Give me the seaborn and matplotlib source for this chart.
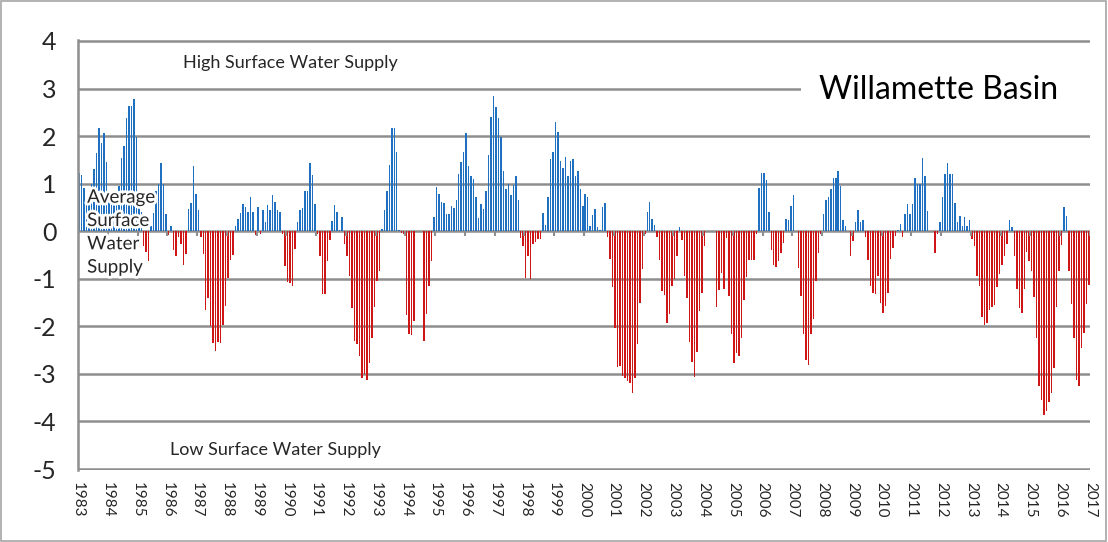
import numpy as np
import pandas as pd
import matplotlib.pyplot as plt
import matplotlib.patheffects as pe
from matplotlib.patches import Rectangle
import seaborn as sns

# monthly surface water supply index, Willamette Basin, Jan 1983 - Dec 2016
v1983 = [1.23, 1.18, 0.9, 0.7, 0.8, 1.0, 1.31, 1.64, 2.17, 1.86, 2.07, 1.46]
v1984 = [0.8, 0.6, 0.7, 0.6, 0.95, 1.54, 1.8, 2.39, 2.64, 2.63, 2.78, 1.99]
v1985 = [0.7, 0.4, -0.32, -0.43, -0.63, 0.1, 0.38, 0.85, 0.99, 1.43, 0.99, 0.37]
v1986 = [-0.08, 0.12, -0.39, -0.53, -0.12, -0.26, -0.7, -0.48, 0.47, 0.59, 1.37, 0.78]
v1987 = [0.45, -0.12, -0.48, -1.66, -1.41, -2.0, -2.36, -2.52, -2.32, -2.34, -1.97, -1.57]
v1988 = [-0.99, -0.6, -0.5, 0.1, 0.26, 0.38, 0.57, 0.5, 0.4, 0.72, 0.4, -0.08]
v1989 = [0.5, -0.06, 0.45, 0.19, 0.55, 0.45, 0.76, 0.62, 0.45, 0.41, -0.05, -0.74]
v1990 = [-1.07, -1.08, -1.15, -0.37, 0.19, 0.45, 0.48, 0.85, 0.85, 1.43, 1.18, 0.57]
v1991 = [-0.05, -0.53, -1.31, -1.31, -0.62, -0.19, 0.21, 0.55, 0.4, 0.02, 0.3, -0.26]
v1992 = [-0.53, -0.94, -1.62, -2.31, -2.38, -2.63, -3.08, -3.01, -3.12, -2.76, -2.24, -1.59]
v1993 = [-1.05, -0.84, 0.05, 0.45, 0.85, 1.39, 2.16, 2.18, 1.66, 0.02, -0.03, -0.05]
v1994 = [-1.77, -2.17, -2.19, -1.88, 0.0, 0.0, 0.0, -2.31, -1.74, -1.15, -0.63, 0.3]
v1995 = [0.93, 0.78, 0.62, 0.59, 0.37, 0.37, 0.52, 0.48, 0.66, 1.21, 1.46, 1.66]
v1996 = [2.07, 1.38, 1.16, 1.1, 0.72, 0.28, 0.57, 0.47, 0.85, 1.61, 2.4, 2.85]
v1997 = [2.61, 2.37, 1.99, 1.26, 0.88, 1.0, 0.76, 0.97, 1.16, 0.66, -0.15, -0.32]
v1998 = [-0.98, -0.53, -1.0, -0.26, -0.22, -0.17, -0.17, 0.38, 0.14, 0.72, 1.52, 1.66]
v1999 = [2.3, 2.08, 1.47, 1.33, 1.56, 1.16, 1.47, 1.52, 1.16, 1.26, 0.88, 0.52]
v2000 = [0.78, 0.71, 0.12, 0.34, 0.47, 0.09, 0.03, 0.5, 0.59, -0.13, -0.59, -1.17]
v2001 = [-2.03, -2.86, -2.84, -3.05, -3.08, -3.14, -3.19, -3.41, -3.08, -2.38, -1.5, -0.79]
v2002 = [-0.05, 0.41, 0.62, 0.26, 0.14, -0.12, -0.6, -1.26, -1.34, -1.93, -1.74, -1.15]
v2003 = [-1.0, -0.53, 0.09, -0.19, -0.94, -1.41, -2.32, -2.74, -3.07, -2.53, -1.67, -1.29]
v2004 = [-0.32, 0.0, 0.0, 0.0, 0.0, -1.6, -1.24, -0.88, -1.22, -0.14, -1.36, -2.17]
v2005 = [-2.76, -2.55, -2.63, -2.24, -1.44, -0.97, -0.6, -0.6, -0.6, -0.05, 0.9, 1.23]
v2006 = [1.23, 1.07, 0.4, -0.39, -0.7, -0.75, -0.62, -0.45, -0.24, 0.26, 0.23, 0.52]
v2007 = [0.76, 0.0, -0.77, -1.36, -2.17, -2.7, -2.81, -2.17, -1.84, -1.05, -0.45, -0.05]
v2008 = [0.37, 0.66, 0.71, 0.88, 1.11, 1.11, 1.26, 0.95, 0.24, 0.1, 0.0, -0.52]
v2009 = [-0.2, 0.19, 0.45, 0.19, 0.23, -0.12, -0.6, -1.15, -1.29, -1.32, -0.94, -1.5]
v2010 = [-1.72, -1.58, -1.29, -0.59, -0.36, -0.1, 0.03, 0.16, -0.13, 0.37, 0.57, 0.37]
v2011 = [0.57, 1.11, 1.0, 1.0, 1.54, 1.16, 0.43, 0.0, 0.0, -0.46, -0.05, 0.19]
v2012 = [0.72, 1.21, 1.43, 1.21, 1.21, 0.59, 0.19, 0.31, 0.12, 0.3, 0.12, 0.24]
v2013 = [-0.17, -0.32, -0.94, -1.15, -1.81, -1.98, -1.94, -1.66, -1.6, -1.55, -1.17, -0.9]
v2014 = [-0.7, -0.53, -0.26, 0.23, 0.09, -0.53, -1.21, -1.62, -1.72, -1.21, -0.43, -0.63]
v2015 = [-0.83, -1.38, -2.24, -3.26, -3.54, -3.86, -3.78, -3.6, -3.4, -2.88, -1.6, -0.84]
v2016 = [-0.28, 0.5, 0.33, -0.83, -1.52, -2.24, -3.12, -3.26, -2.45, -2.14, -1.53, -1.13]

years = list(range(1983, 2017))
year_values = [v1983, v1984, v1985, v1986, v1987, v1988, v1989, v1990, v1991, v1992,
               v1993, v1994, v1995, v1996, v1997, v1998, v1999, v2000, v2001, v2002,
               v2003, v2004, v2005, v2006, v2007, v2008, v2009, v2010, v2011, v2012,
               v2013, v2014, v2015, v2016]
tick_years = list(range(1983, 2018))
y_ticks = [4, 3, 2, 1, 0, -1, -2, -3, -4, -5]

values = np.concatenate(year_values)
df = pd.DataFrame({
    'month': np.arange(len(values)),
    'index': values,
    'sign': np.where(values >= 0, 'high', 'low'),
})

sns.set_style('white')
plt.rcParams['font.family'] = ['Lato', 'DejaVu Sans']

blue = '#1f70c1'
red = '#cf1616'
grid_col = '#8e8e8e'

fig = plt.figure(figsize=(11.08, 5.42), dpi=100)
ax = fig.add_axes([78 / 1108, 72 / 542, 1012 / 1108, 430 / 542])

sns.barplot(data=df, x='month', y='index', hue='sign', hue_order=['high', 'low'],
            palette={'high': blue, 'low': red}, dodge=False, native_scale=True,
            width=0.6, saturation=1, linewidth=0, legend=False, ax=ax)

ax.set_xlim(-0.5, len(values) - 0.5)
ax.set_ylim(-5.02, 4.02)
ax.set_yticks(y_ticks)
ax.set_yticklabels([str(t) for t in y_ticks], fontsize=18)
ax.yaxis.grid(True, color=grid_col, linewidth=1.8)
ax.set_axisbelow(True)

# year labels at the year boundaries
tick_pos = [12 * k - 0.5 for k in range(len(tick_years))]
ax.set_xticks(tick_pos)
ax.set_xticklabels([str(y) for y in tick_years], rotation=-90, fontsize=11)
ax.tick_params(axis='x', length=0, pad=9)
ax.tick_params(axis='y', length=4.5, width=1.5, color=grid_col, pad=11)
ax.vlines(tick_pos, -0.1, 0, color=grid_col, linewidth=1.5, zorder=1)

for s in ['top', 'right', 'bottom']:
    ax.spines[s].set_visible(False)
ax.spines['left'].set_color(grid_col)
ax.spines['left'].set_linewidth(1.8)
ax.set_xlabel('')
ax.set_ylabel('')

ax.text(0.21, 3.54, 'High Surface Water Supply', transform=ax.get_yaxis_transform(),
        ha='center', va='center', fontsize=13, color='#262626')
ax.text(0.195, -4.6, 'Low Surface Water Supply', transform=ax.get_yaxis_transform(),
        ha='center', va='center', fontsize=13, color='#262626')

# title box sits on top of the 3 gridline
ax.add_patch(Rectangle((0.714, 0.84), 0.29, 0.088, transform=ax.transAxes,
                       facecolor='white', edgecolor='none', zorder=3, clip_on=False))
ax.text(0.732, 2.97, 'Willamette Basin', transform=ax.get_yaxis_transform(),
        ha='left', va='center', fontsize=23, color='black', zorder=4)

ax.text(0.009, -0.02, 'Average\nSurface\nWater\nSupply', transform=ax.get_yaxis_transform(),
        ha='left', va='center', fontsize=13.5, linespacing=1.45, color='#262626', zorder=4,
        path_effects=[pe.withStroke(linewidth=4, foreground='white')])

fig.patches.append(Rectangle((0.001, 0.002), 0.997, 0.996, transform=fig.transFigure,
                             fill=False, edgecolor='#a6a6a6', linewidth=1.2))

fig.savefig('out.png', dpi=100)
